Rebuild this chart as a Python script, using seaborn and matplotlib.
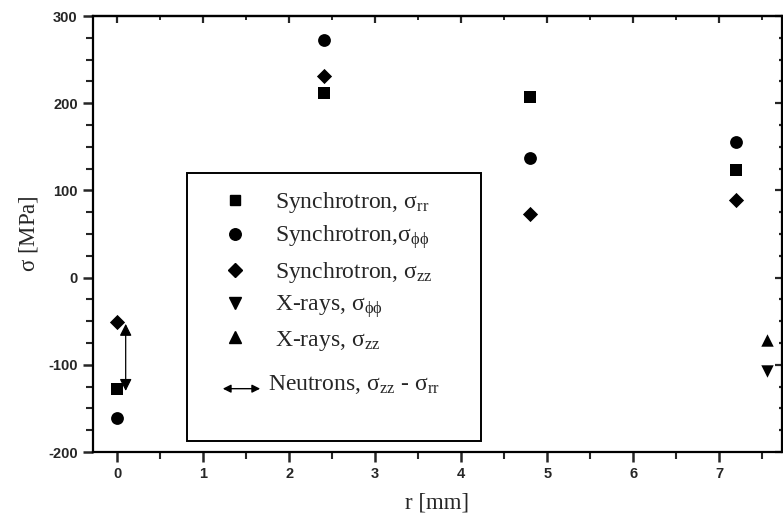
import numpy as np
import pandas as pd
import matplotlib
matplotlib.use('Agg')
import matplotlib.pyplot as plt
from matplotlib.legend_handler import HandlerBase
from matplotlib.patches import FancyArrowPatch, Rectangle
from matplotlib.lines import Line2D
from matplotlib.ticker import MultipleLocator
import seaborn as sns

# synchrotron data
sync_r = [0.0, 2.4, 4.8, 7.2]
sync_rr = [-128, 212, 207, 123]
sync_pp = [-161, 273, 137, 155]
sync_zz = [-51, 231, 73, 89]

# x-ray data
xray_r = [7.55]
xray_pp = [-107]
xray_zz = [-72]

# neutron difference (drawn as double arrow)
neutron_r = 0.1
neutron_top = -53
neutron_bottom = -130

labels = [r'Synchrotron, $\sigma_{rr}$',
          r'Synchrotron,$\sigma_{\phi\phi}$',
          r'Synchrotron, $\sigma_{zz}$',
          r'X-rays, $\sigma_{\phi\phi}$',
          r'X-rays, $\sigma_{zz}$']
neutron_label = r'Neutrons, $\sigma_{zz}$ - $\sigma_{rr}$'
marker_map = dict(zip(labels, ['s', 'o', 'D', 'v', '^']))
size_map = dict(zip(labels, [70, 85, 60, 80, 80]))

df = pd.concat([
    pd.DataFrame({'r': sync_r, 'sigma': sync_rr, 'series': labels[0]}),
    pd.DataFrame({'r': sync_r, 'sigma': sync_pp, 'series': labels[1]}),
    pd.DataFrame({'r': sync_r, 'sigma': sync_zz, 'series': labels[2]}),
    pd.DataFrame({'r': xray_r, 'sigma': xray_pp, 'series': labels[3]}),
    pd.DataFrame({'r': xray_r, 'sigma': xray_zz, 'series': labels[4]}),
], ignore_index=True)

sns.set_style('ticks')
plt.rcParams['mathtext.fontset'] = 'stix'
plt.rcParams['mathtext.default'] = 'regular'
plt.rcParams['axes.unicode_minus'] = False
plt.rcParams['font.family'] = ['Liberation Serif', 'DejaVu Serif']

fig = plt.figure(figsize=(7.83, 5.19), dpi=100)
ax = fig.add_axes([93 / 783, 67 / 519, 689 / 783, 436 / 519])

for lab in labels:
    sub = df[df['series'] == lab]
    sns.scatterplot(data=sub, x='r', y='sigma', marker=marker_map[lab],
                    s=size_map[lab], color='black', edgecolor='black',
                    linewidth=0, ax=ax, legend=False)

ax.annotate('', xy=(neutron_r, neutron_top), xytext=(neutron_r, neutron_bottom),
            arrowprops=dict(arrowstyle='<|-|>', color='black', lw=0.9,
                            mutation_scale=18, shrinkA=0, shrinkB=0))

ax.set_xlim(-0.28, 7.73)
ax.set_ylim(-200, 300)
ax.xaxis.set_major_locator(MultipleLocator(1))
ax.xaxis.set_minor_locator(MultipleLocator(0.5))
ax.yaxis.set_major_locator(MultipleLocator(100))
ax.yaxis.set_minor_locator(MultipleLocator(25))

for sp in ax.spines.values():
    sp.set_linewidth(1.6)
    sp.set_color('black')

ax.tick_params(which='major', direction='out', length=7, width=1.8,
               labelsize=10.5, pad=4)
ax.tick_params(which='minor', direction='out', length=5, width=1.5)
for t in ax.get_xticklabels() + ax.get_yticklabels():
    t.set_family(['Liberation Sans', 'DejaVu Sans'])
    t.set_fontweight('bold')

top = ax.secondary_xaxis('top')
top.xaxis.set_major_locator(MultipleLocator(1))
top.xaxis.set_minor_locator(MultipleLocator(0.5))
top.tick_params(which='major', direction='in', length=5, width=1.6, labeltop=False)
top.tick_params(which='minor', direction='in', length=3, width=1.4)
top.spines['top'].set_linewidth(1.6)

right = ax.secondary_yaxis('right')
right.yaxis.set_major_locator(MultipleLocator(100))
right.yaxis.set_minor_locator(MultipleLocator(25))
right.tick_params(which='major', direction='in', length=5, width=1.6, labelright=False)
right.tick_params(which='minor', direction='in', length=2, width=1.6)
right.spines['right'].set_visible(False)

ax.set_xlabel('r [mm]', fontsize=16.5, labelpad=8)
ax.set_ylabel(r'$\sigma$ [MPa]', fontsize=16.5, labelpad=6)


class ArrowHandler(HandlerBase):
    def create_artists(self, legend, orig_handle, xdescent, ydescent,
                       width, height, fontsize, trans):
        y = height / 2 - ydescent - 5
        arr = FancyArrowPatch((-xdescent, y), (-xdescent + width, y),
                              arrowstyle='<|-|>', mutation_scale=12,
                              color='black', lw=1.0, transform=trans)
        return [arr]


handles = [Line2D([], [], marker=marker_map[l], ls='none', color='black',
                  markersize=np.sqrt(size_map[l]) * 0.9) for l in labels]

leg = ax.legend(handles, labels, loc='upper left',
                bbox_to_anchor=(223 / 783, 1 - 190 / 519), bbox_transform=fig.transFigure,
                frameon=False, fontsize=17,
                handlelength=1.0, handletextpad=1.19, labelspacing=0.36,
                borderpad=0, borderaxespad=0)
ax.add_artist(leg)

neutron_handle = Line2D([], [], color='black')
leg2 = ax.legend([neutron_handle], [neutron_label], loc='upper left',
                 bbox_to_anchor=(220 / 783, 1 - 373 / 519), bbox_transform=fig.transFigure,
                 frameon=False, fontsize=17,
                 handlelength=1.82, handletextpad=0.21,
                 borderpad=0, borderaxespad=0,
                 handler_map={neutron_handle: ArrowHandler()})

# legend box drawn separately so its padding matches the original
box = Rectangle((187 / 783, 1 - 441 / 519), (481 - 187) / 783, (441 - 173) / 519,
                transform=fig.transFigure, fill=False, edgecolor='black', lw=1.4)
fig.add_artist(box)

fig.savefig('out.png', dpi=100)
